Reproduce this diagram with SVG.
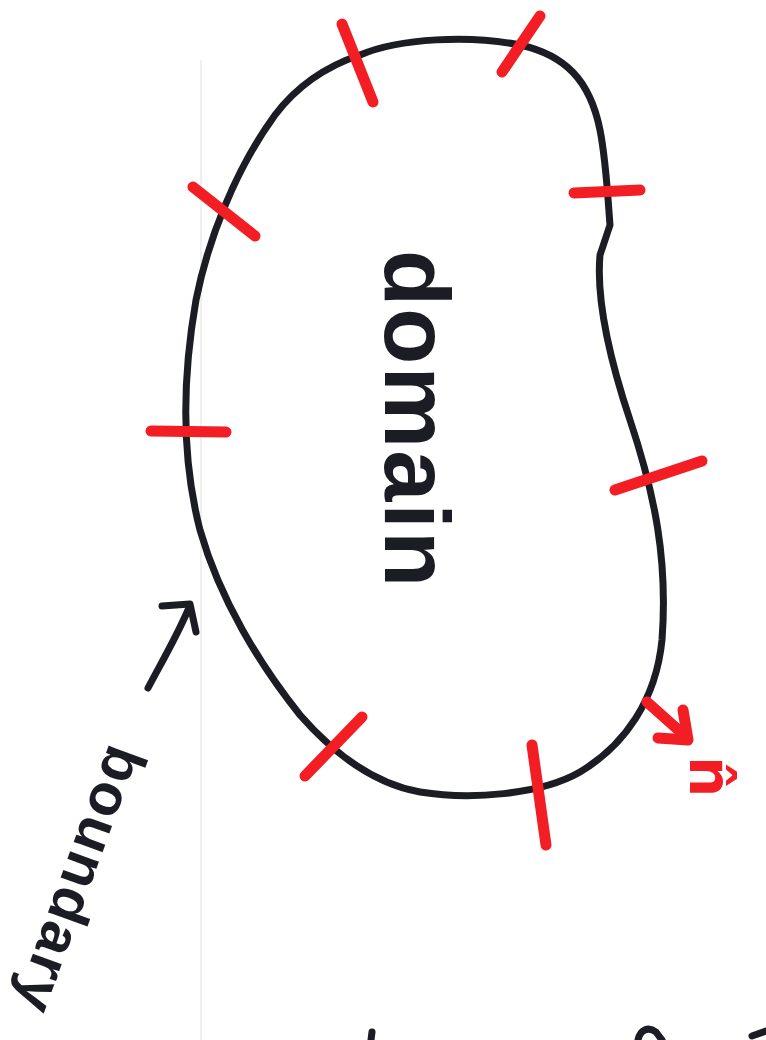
<svg xmlns="http://www.w3.org/2000/svg" width="766" height="1040" viewBox="0 0 766 1040">
<style>
.ink{fill:none;stroke:#1c1d24;stroke-width:7;stroke-linecap:round;stroke-linejoin:round}
.red{fill:none;stroke:#f21e24;stroke-width:11;stroke-linecap:round;stroke-linejoin:round}
.hand{font-family:"Liberation Sans",Arial,sans-serif;font-weight:bold;fill:#1c1d24}
</style>
<rect width="766" height="1040" fill="#ffffff"/>
<line x1="201" y1="60" x2="201" y2="1040" stroke="#f0f0f0" stroke-width="2"/>
<g id="domain">
<path class="ink" d="M360,55 C400,38 470,35 520,45 C565,55 590,80 600,130 C606,160 608,200 610,225 L600,255 C596,300 610,360 630,420 C655,495 668,560 662,640 C656,700 625,745 580,772 C540,795 470,800 420,792 C375,784 335,755 300,715 C260,665 220,600 200,530 C182,460 182,380 196,300 C208,240 235,170 275,115 C300,82 330,65 360,55 Z"/>
<text class="hand" font-size="92" letter-spacing="2" transform="translate(385,250) rotate(90)">domain</text>
</g>
<g id="ticks">
<line class="red" x1="342" y1="24" x2="373" y2="102"/>
<line class="red" x1="540" y1="16" x2="502" y2="72"/>
<line class="red" x1="574" y1="193" x2="640" y2="190"/>
<line class="red" x1="615" y1="490" x2="702" y2="461"/>
<line class="red" x1="151" y1="431" x2="226" y2="432"/>
<line class="red" x1="193" y1="187" x2="255" y2="236"/>
<line class="red" x1="305" y1="776" x2="362" y2="717"/>
<line class="red" x1="532" y1="745" x2="546" y2="845"/>
</g>
<g id="normal">
<path class="red" d="M647,702 L684,735"/>
<path class="red" d="M658,738 L688,740 L683,710"/>
<text font-family="'DejaVu Sans',sans-serif" font-weight="bold" font-size="58" fill="#f21e24" transform="translate(690,756) rotate(90)">n̂</text>
</g>
<g id="boundary">
<text class="hand" font-size="58" letter-spacing="2" transform="translate(110,742) rotate(110)">boundary</text>
</g>
<g id="connectors">
<path class="ink" d="M148,688 C160,665 175,640 188,610"/>
<path class="ink" d="M162,606 L190,604 L196,632"/>
</g>
<g id="cutoff">
<path class="ink" d="M372,1032 L371,1040"/>
<path class="ink" d="M638,1040 C640,1030 648,1026 656,1032 L662,1040"/>
<path class="ink" d="M752,1036 L766,1031"/>
</g>
</svg>
